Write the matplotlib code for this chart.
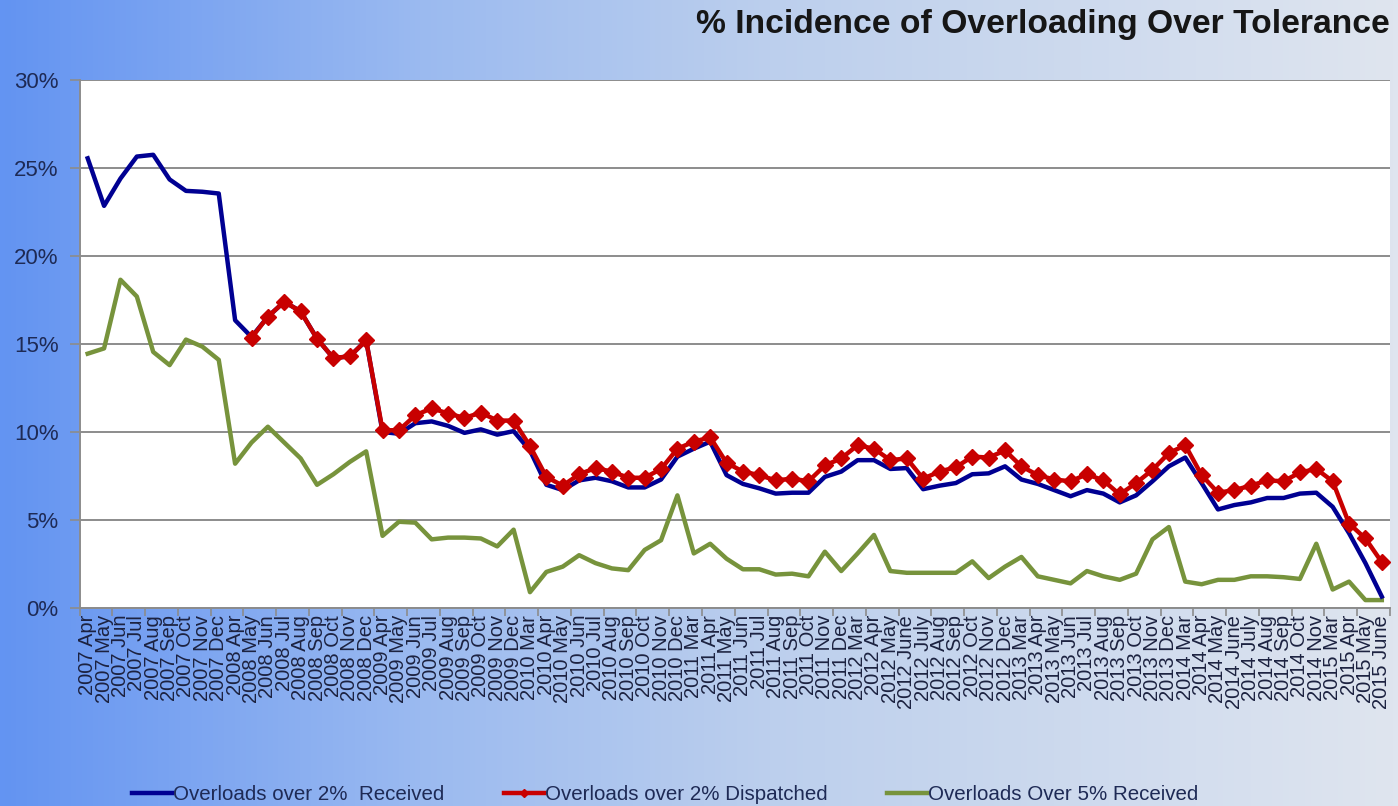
import numpy as np
import matplotlib
matplotlib.use("Agg")
import matplotlib.pyplot as plt
from matplotlib.colors import LinearSegmentedColormap
from matplotlib.ticker import FuncFormatter, FixedLocator

plt.rcParams["font.family"] = ["Liberation Sans", "DejaVu Sans"]

# month labels along the x axis
months = [
    "2007 Apr", "2007 May", "2007 Jun", "2007 Jul", "2007 Aug", "2007 Sep", "2007 Oct", "2007 Nov", "2007 Dec",
    "2008 Apr", "2008 May", "2008 Jun", "2008 Jul", "2008 Aug", "2008 Sep", "2008 Oct", "2008 Nov", "2008 Dec",
    "2009 Apr", "2009 May", "2009 Jun", "2009 Jul", "2009 Aug", "2009 Sep", "2009 Oct", "2009 Nov", "2009 Dec",
    "2010 Mar", "2010 Apr", "2010 May", "2010 Jun", "2010 Jul", "2010 Aug", "2010 Sep", "2010 Oct", "2010 Nov", "2010 Dec",
    "2011 Mar", "2011 Apr", "2011 May", "2011 Jun", "2011 Jul", "2011 Aug", "2011 Sep", "2011 Oct", "2011 Nov", "2011 Dec",
    "2012 Mar", "2012 Apr", "2012 May", "2012 June", "2012 July", "2012 Aug", "2012 Sep", "2012 Oct", "2012 Nov", "2012 Dec",
    "2013 Mar", "2013 Apr", "2013 May", "2013 Jun", "2013 Jul", "2013 Aug", "2013 Sep", "2013 Oct", "2013 Nov", "2013 Dec",
    "2014 Mar", "2014 Apr", "2014 May", "2014 June", "2014 July", "2014 Aug", "2014 Sep", "2014 Oct", "2014 Nov",
    "2015 Mar", "2015 Apr", "2015 May", "2015 June",
]

# % of loads over 2% tolerance, received
received_2pct = [
    25.55, 22.85, 24.4, 25.65, 25.75, 24.35, 23.7, 23.65, 23.55,
    16.35, 15.4, 16.55, 17.4, 16.85, 15.3, 14.2, 14.3, 15.2,
    10.0, 9.9, 10.5, 10.6, 10.35, 9.95, 10.15, 9.85, 10.05,
    8.95, 7.0, 6.7, 7.25, 7.4, 7.2, 6.85, 6.85, 7.3, 8.6,
    9.05, 9.45, 7.55, 7.05, 6.8, 6.5, 6.55, 6.55, 7.45, 7.75,
    8.4, 8.4, 7.9, 7.95, 6.75, 6.95, 7.1, 7.6, 7.65, 8.05,
    7.3, 7.05, 6.7, 6.35, 6.7, 6.5, 6.0, 6.4, 7.2, 8.05,
    8.55, 7.1, 5.6, 5.85, 6.0, 6.25, 6.25, 6.5, 6.55,
    5.75, 4.25, 2.55, 0.65,
]

# % of loads over 2% tolerance, dispatched (recorded from 2008 May)
dispatched_2pct = [
    None, None, None, None, None, None, None, None, None,
    None, 15.35, 16.55, 17.4, 16.85, 15.3, 14.2, 14.3, 15.2,
    10.1, 10.1, 10.95, 11.35, 11.05, 10.8, 11.1, 10.65, 10.65,
    9.2, 7.45, 6.95, 7.6, 7.95, 7.75, 7.4, 7.4, 7.9, 9.05,
    9.45, 9.7, 8.25, 7.75, 7.55, 7.25, 7.35, 7.2, 8.1, 8.5,
    9.25, 9.05, 8.4, 8.5, 7.35, 7.75, 8.0, 8.6, 8.55, 8.95,
    8.05, 7.55, 7.3, 7.2, 7.6, 7.25, 6.45, 7.1, 7.85, 8.8,
    9.25, 7.55, 6.55, 6.7, 6.95, 7.25, 7.2, 7.7, 7.9,
    7.2, 4.8, 3.95, 2.6,
]

# % of loads over 5% tolerance, received
received_5pct = [
    14.45, 14.75, 18.65, 17.7, 14.55, 13.8, 15.25, 14.85, 14.1,
    8.2, 9.4, 10.3, 9.4, 8.5, 7.0, 7.6, 8.3, 8.9,
    4.1, 4.9, 4.85, 3.9, 4.0, 4.0, 3.95, 3.5, 4.45,
    0.9, 2.05, 2.35, 3.0, 2.55, 2.25, 2.15, 3.3, 3.85, 6.4,
    3.1, 3.65, 2.8, 2.2, 2.2, 1.9, 1.95, 1.8, 3.2, 2.1,
    3.1, 4.15, 2.1, 2.0, 2.0, 2.0, 2.0, 2.65, 1.7, 2.35,
    2.9, 1.8, 1.6, 1.4, 2.1, 1.8, 1.6, 1.95, 3.9, 4.6,
    1.5, 1.35, 1.6, 1.6, 1.8, 1.8, 1.75, 1.65, 3.65,
    1.05, 1.5, 0.45, 0.45,
]

W, H = 1398, 806
fig = plt.figure(figsize=(W / 100, H / 100), dpi=100)

# slide-style background: saturated blue on the left fading to pale grey-blue
bg = fig.add_axes([0, 0, 1, 1], zorder=-10)
bg_cmap = LinearSegmentedColormap.from_list(
    "slide", [(0.0, "#6394f2"), (0.3, "#9bbaf0"), (0.55, "#bccfed"), (1.0, "#dfe5ef")]
)
bg.imshow(np.linspace(0, 1, 256)[None, :], aspect="auto", cmap=bg_cmap, extent=[0, 1, 0, 1])
bg.axis("off")

ax = fig.add_axes([79.5 / W, (H - 608) / H, (1390 - 79.5) / W, (608 - 80) / H])
ax.set_facecolor("white")

x = np.arange(len(months))
blue = np.array(received_2pct, dtype=float)
red = np.array([np.nan if v is None else v for v in dispatched_2pct], dtype=float)
green = np.array(received_5pct, dtype=float)

ax.plot(x, green, color="#77933c", lw=3.2, solid_joinstyle="round", label="Overloads Over 5% Received", zorder=3)
ax.plot(x, blue, color="#000092", lw=3.2, solid_joinstyle="round", label="Overloads over 2%  Received", zorder=4)
ax.plot(x, red, color="#c80000", lw=3.2, marker="D", markersize=8, solid_joinstyle="round",
        label="Overloads over 2% Dispatched", zorder=5)

ax.set_xlim(-0.5, len(months) - 0.5)
ax.set_ylim(0, 30)
ax.set_yticks(range(0, 31, 5))
ax.yaxis.set_major_formatter(FuncFormatter(lambda v, p: "%d%%" % v))
ax.grid(axis="y", color="#8c8c8c", lw=1.4)
ax.set_axisbelow(True)

for side in ["top", "right"]:
    ax.spines[side].set_visible(False)
for side in ["left", "bottom"]:
    ax.spines[side].set_color("#8c8c8c")
    ax.spines[side].set_linewidth(1.4)

ax.tick_params(axis="y", colors="#8c8c8c", length=7, width=1.2, labelsize=16, labelcolor="#1e2a55", pad=8)

# month labels on the categories, tick marks between every second pair
ax.set_xticks(x)
ax.set_xticklabels(months, rotation=90, fontsize=14.5, color="#1c2240")
ax.tick_params(axis="x", which="major", length=0, pad=5)
ax.xaxis.set_minor_locator(FixedLocator(np.arange(-0.5, len(months), 2)))
ax.tick_params(axis="x", which="minor", length=6, width=1.2, color="#8c8c8c")

fig.text(1390 / W, 1 - 25 / H, "% Incidence of Overloading Over Tolerance", ha="right", va="center",
         fontsize=24.2, fontweight="bold", color="#161616")

handles, labels = ax.get_legend_handles_labels()
order = [1, 2, 0]
fig.legend([handles[i] for i in order], [labels[i] for i in order], loc="center",
           bbox_to_anchor=(665 / W, 1 - 795 / H), ncol=3, frameon=False, fontsize=14.8,
           handlelength=1.95, handletextpad=0.05, columnspacing=2.9, numpoints=1,
           labelcolor="#1e2a55", markerscale=0.55)

fig.savefig("out.png", dpi=100)
